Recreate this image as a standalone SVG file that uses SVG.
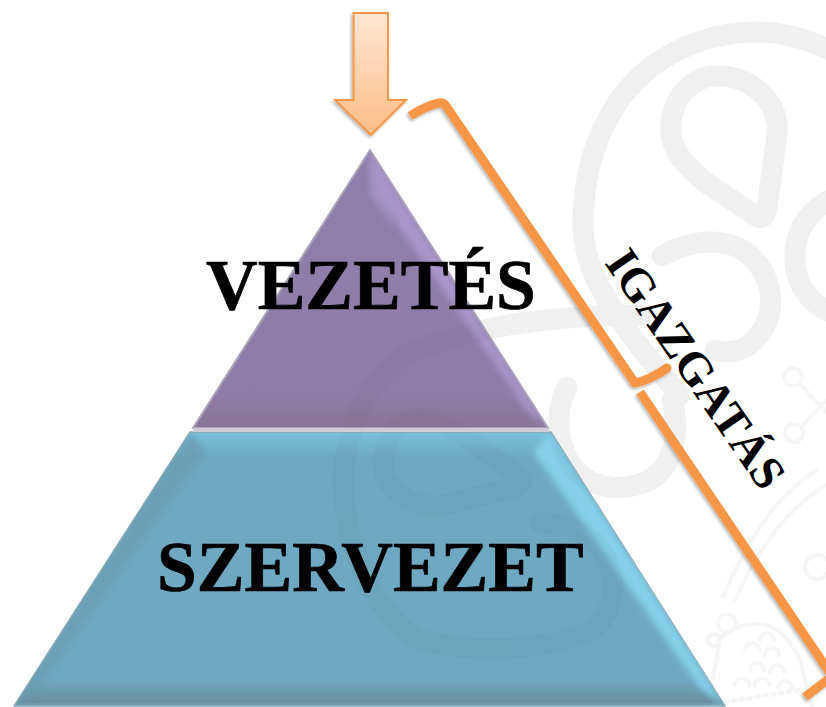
<svg xmlns="http://www.w3.org/2000/svg" width="826" height="707" viewBox="0 0 826 707">
<style>
.wm{fill:none;stroke:#f0f0f0;stroke-width:21;stroke-linecap:round;stroke-linejoin:round}
.wf{fill:none;stroke:#f6f6f6;stroke-width:4;stroke-linecap:round;stroke-linejoin:round}
.lbl{font-family:"Liberation Serif","Times New Roman",serif;font-weight:700;fill:#000}
.hv{stroke:#000;stroke-width:.7}
.br{fill:none;stroke:#f79646;stroke-width:9;stroke-linejoin:round}
</style>
<defs>
<linearGradient id="ag" x1="0" y1="0" x2="0" y2="1"><stop offset="0" stop-color="#fee6d4"/><stop offset="1" stop-color="#fdbd86"/></linearGradient>
<linearGradient id="pv" x1="0" y1="0" x2="0" y2="1"><stop offset="0" stop-color="#8e80ab"/><stop offset=".88" stop-color="#8e7ca8"/><stop offset="1" stop-color="#887595"/></linearGradient>
<linearGradient id="tb" x1="0" y1="0" x2="0" y2="1"><stop offset="0" stop-color="#79c0de"/><stop offset=".09" stop-color="#6ea9c1"/><stop offset=".9" stop-color="#6ea9c1"/><stop offset=".985" stop-color="#6a909f"/><stop offset="1" stop-color="#6fb0c8"/></linearGradient>
<filter id="sh" x="-20%" y="-20%" width="140%" height="140%"><feDropShadow dx="-1.500" dy="2" stdDeviation="1.500" flood-color="#000" flood-opacity=".28"/></filter>
<filter id="b3" x="-20%" y="-20%" width="140%" height="140%"><feGaussianBlur stdDeviation="3"/></filter>
<clipPath id="c1"><polygon points="370,150 548,428 193,428"/></clipPath>
<clipPath id="c2"><polygon points="190,432 551,432 725,706 14,706"/></clipPath>
<g id="lowerMark">
<path d="M640 315C560 315 470 325 405 355C360 385 345 440 343 480C345 550 375 615 420 640C480 655 540 650 587 633C610 620 620 590 607 560C595 535 570 525 540 522"/>
<path d="M383 463C385 435 400 418 425 418C455 425 490 455 520 478C525 483 520 486 515 487L445 505C420 510 385 495 383 463Z"/>
<path d="M567 387C555 410 555 445 575 470C595 490 625 492 650 480C675 465 680 430 672 400"/>
</g>
</defs>
<g id="watermark-upper" class="wm">
<path d="M830 50C805 38 780 32 757 32C700 32 640 60 610 115C590 150 583 190 583 225C583 270 610 315 680 395"/>
<path d="M717 76C690 76 671 100 671 128C670 150 685 165 705 182L756 216C761 220 766 216 767 208L777 135C780 100 750 76 717 76Z"/>
<path d="M662 256C690 240 725 235 750 255C775 280 778 315 755 340C745 350 730 355 715 350"/>
<path d="M830 200C800 215 790 245 797 275C803 295 815 305 830 312"/>
</g>
<use href="#lowerMark" class="wm"/>
<g id="watermark-crown" class="wf">
<path d="M802 386L826 412M804 424L826 400"/>
<circle cx="793" cy="377" r="9"/><circle cx="794" cy="433" r="9"/>
<path d="M723 597C745 545 775 495 817 470M735 600C755 555 785 510 826 485"/>
<path d="M718 640C735 625 775 605 800 660L812 707M720 640L708 707"/>
<path d="M760 640a7 7 0 0 1 14 0M745 650a7 7 0 0 1 14 0M765 655a7 7 0 0 1 14 0M750 670a7 7 0 0 1 14 0M770 672a7 7 0 0 1 14 0M735 685a7 7 0 0 1 14 0M755 685a7 7 0 0 1 14 0M778 688a7 7 0 0 1 14 0"/>
<path d="M725 702L800 690" stroke-dasharray="2 6" stroke-width="5"/>
<circle cx="727" cy="623" r="9"/><circle cx="714" cy="640" r="6"/><circle cx="817" cy="567" r="12"/>
</g>
<g id="pyramid-top">
<polygon points="370,150 548,428 193,428" fill="url(#pv)" stroke="#aaa5b8" stroke-width="2"/>
<g clip-path="url(#c1)">
<polygon points="370,150 548,428 527,410 373,190" fill="#a896c9" filter="url(#b3)"/>
<polygon points="370,150 370,195 395,230" fill="#a594c4" opacity=".75" filter="url(#b3)"/>
</g>
</g>
<g id="pyramid-bottom">
<polygon points="190,432 551,432 725,706 14,706" fill="url(#tb)" stroke="#8fa9b3" stroke-width="1.500"/>
<g clip-path="url(#c2)">
<polygon points="551,432 725,706 700,688 533,452" fill="#84cfe9" filter="url(#b3)"/>
<polygon points="190,432 14,706 36,692 205,452" fill="#6b9db1" opacity=".8" filter="url(#b3)"/>
</g>
<rect x="193" y="428" width="356" height="4" fill="#d0cbd6"/>
</g>
<use href="#lowerMark" class="wm" style="stroke:#000" opacity=".018" clip-path="url(#c1)"/>
<use href="#lowerMark" class="wm" style="stroke:#000" opacity=".018" clip-path="url(#c2)"/>
<g id="arrow">
<polygon points="353.500,13 388,13 388,100 406,100 371,135 335,100 353.500,100" fill="url(#ag)" stroke="#f79646" stroke-width="2" filter="url(#sh)"/>
</g>
<g id="connectors" filter="url(#sh)">
<path class="br" d="M410 116Q428 105 439 103Q443 102 446 106L635 383"/>
<path class="br" stroke-linecap="round" d="M635 383Q650 380 667 368"/>
<path class="br" d="M640 392L830 673"/>
<path class="br" d="M805 697L830 678"/>
</g>
<g id="label-vezetes"><text class="lbl hv" x="206" y="309" font-size="71.500">VEZETÉS</text></g>
<g id="label-szervezet"><text class="lbl hv" x="157" y="591" font-size="71.500">SZERVEZET</text></g>
<g id="label-igazgatas"><text class="lbl" font-size="47" transform="translate(604 263) rotate(55.500)">IGAZGATÁS</text></g>
</svg>
